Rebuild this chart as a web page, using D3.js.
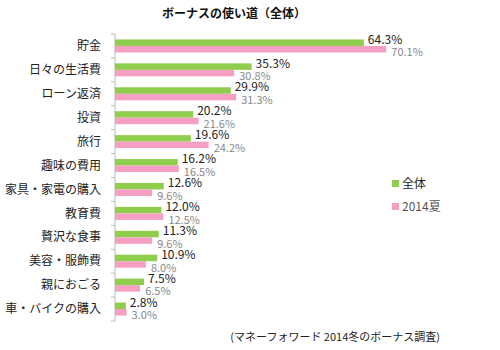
<!DOCTYPE html>
<html lang="ja">
<head>
<meta charset="UTF-8">
<script src="https://d3js.org/d3.v7.min.js"></script>
<style>
  body { margin: 0; background: #fff; }
  text { font-family: "Noto Sans CJK JP", "Noto Sans", sans-serif; }
</style>
</head>
<body>
<div id="chart"></div>
<script>
// data
const categories = ["貯金", "日々の生活費", "ローン返済", "投資", "旅行", "趣味の費用",
  "家具・家電の購入", "教育費", "贅沢な食事", "美容・服飾費", "親におごる", "車・バイクの購入"];
const zentai = [64.3, 35.3, 29.9, 20.2, 19.6, 16.2, 12.6, 12.0, 11.3, 10.9, 7.5, 2.8];
const summer2014 = [70.1, 30.8, 31.3, 21.6, 24.2, 16.5, 9.6, 12.5, 9.6, 8.0, 6.5, 3.0];
const seriesNames = ["全体", "2014夏"];

const W = 500, H = 350;
const colors = ["#8fce4c", "#f5a0c2"];

const svg = d3.select("#chart").append("svg")
  .attr("width", W).attr("height", H);

const x = d3.scaleLinear().domain([0, 100]).range([115, 115 + 387]);
const y = d3.scaleBand().domain(categories).range([34, 321]);

// title
svg.append("text")
  .attr("x", 234).attr("y", 18)
  .attr("text-anchor", "middle")
  .style("font-size", "12px").style("font-weight", "bold")
  .attr("fill", "#111")
  .text("ボーナスの使い道（全体）");

// axis with ticks at band boundaries
const axisG = svg.append("g");
axisG.append("line")
  .attr("x1", 115).attr("x2", 115)
  .attr("y1", y.range()[0]).attr("y2", y.range()[1])
  .attr("stroke", "#bbb");
const bounds = categories.map(c => y(c)).concat([y.range()[1]]);
axisG.selectAll(".tk").data(bounds).enter().append("line")
  .attr("x1", 111).attr("x2", 115)
  .attr("y1", d => d).attr("y2", d => d)
  .attr("stroke", "#bbb");

// category labels
svg.selectAll(".cat").data(categories).enter().append("text")
  .attr("x", 101)
  .attr("y", d => y(d) + y.bandwidth() / 2)
  .attr("dy", "0.35em")
  .attr("text-anchor", "end")
  .style("font-size", "12px")
  .attr("fill", "#222")
  .text(d => d);

const bh = 6.5;
const x0 = x(0);

// green bars
svg.selectAll(".g").data(zentai).enter().append("rect")
  .attr("x", x0)
  .attr("y", (d, i) => y(categories[i]) + y.bandwidth() / 2 - bh)
  .attr("width", d => x(d) - x0)
  .attr("height", bh)
  .attr("fill", colors[0]);

// pink bars
svg.selectAll(".p").data(summer2014).enter().append("rect")
  .attr("x", x0)
  .attr("y", (d, i) => y(categories[i]) + y.bandwidth() / 2)
  .attr("width", d => x(d) - x0)
  .attr("height", bh)
  .attr("fill", colors[1]);

// labels
svg.selectAll(".gl").data(zentai).enter().append("text")
  .attr("x", d => x(d) + 4)
  .attr("y", (d, i) => y(categories[i]) + y.bandwidth() / 2 - bh)
  .attr("dy", "0.35em")
  .style("font-size", "12px")
  .attr("fill", "#222")
  .text(d => d.toFixed(1) + "%");

svg.selectAll(".pl").data(summer2014).enter().append("text")
  .attr("x", d => x(d) + 5)
  .attr("y", (d, i) => y(categories[i]) + y.bandwidth() / 2 + bh)
  .attr("dy", "0.35em")
  .style("font-size", "11px")
  .attr("fill", "#888")
  .text(d => d.toFixed(1) + "%");

// legend
const leg = svg.selectAll(".leg").data(seriesNames).enter().append("g")
  .attr("transform", (d, i) => `translate(392, ${180 + i * 23})`);
leg.append("rect").attr("width", 7).attr("height", 7)
  .attr("fill", (d, i) => colors[i]);
leg.append("text").attr("x", 10).attr("y", 4).attr("dy", "0.35em")
  .style("font-size", "12px")
  .attr("fill", (d, i) => i === 0 ? "#222" : "#555")
  .text(d => d);

// source
svg.append("text")
  .attr("x", 440).attr("y", 337).attr("dy", "0.35em")
  .attr("text-anchor", "end")
  .style("font-size", "11px")
  .attr("fill", "#222")
  .text("(マネーフォワード 2014冬のボーナス調査)");
</script>
</body>
</html>
